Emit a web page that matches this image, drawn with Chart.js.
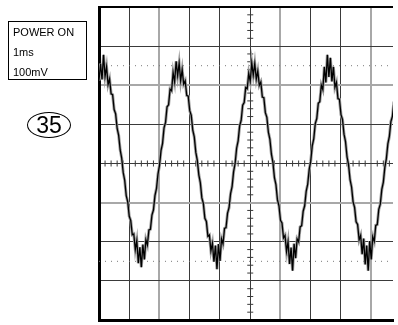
<!DOCTYPE html>
<html>
<head>
<meta charset="utf-8">
<script src="https://cdn.jsdelivr.net/npm/chart.js@4.4.1/dist/chart.umd.min.js"></script>
<style>
  html, body { margin: 0; padding: 0; background: #fff; overflow: hidden; }
  #wrap { position: relative; width: 398px; height: 325px; }
  #scope { position: absolute; left: 0; top: 0; }
  #panel {
    position: absolute; left: 8px; top: 21px; width: 79px; height: 59px;
    border: 1px solid #000; font: 11px "Liberation Sans", Arial, sans-serif;
    line-height: 20px; padding-left: 4px; box-sizing: border-box; color: #000;
  }
  #badge {
    position: absolute; left: 27px; top: 112px; width: 44px; height: 26px;
    border: 1.5px solid #000; border-radius: 50%; box-sizing: border-box;
    font: 23px "Liberation Sans", Arial, sans-serif; color: #000;
    display: flex; align-items: center; justify-content: center; line-height: 1;
  }
</style>
</head>
<body>
<div id="wrap">
  <canvas id="scope" width="398" height="325"></canvas>
  <div id="panel">POWER ON<br>1ms<br>100mV</div>
  <div id="badge">35</div>
</div>
<script>
// screen divisions (1 ms/div, 100 mV/div)
const xDivisions = [0, 1, 2, 3, 4, 5, 6, 7, 8, 9];
const yDivisions = [-4, -3, -2, -1, 0, 1, 2, 3, 4];
const greyXLines = [2, 6, 9];
const greyYLines = [2, -1];
const minorSteps = [0.2, 0.4, 0.6, 0.8];
const markerLevels = [2.5, -2.5];

// sampled trace, time in divisions, level in divisions
const sampleTimes = [
    0.00, 0.05, 0.10, 0.15, 0.20, 0.25, 0.30, 0.35, 0.40, 0.45,
    0.50, 0.55, 0.60, 0.65, 0.70, 0.75, 0.80, 0.85, 0.90, 0.95,
    1.00, 1.05, 1.10, 1.15, 1.20, 1.25, 1.30, 1.35, 1.40, 1.45,
    1.50, 1.55, 1.60, 1.65, 1.70, 1.75, 1.80, 1.85, 1.90, 1.95,
    2.00, 2.05, 2.10, 2.15, 2.20, 2.25, 2.30, 2.35, 2.40, 2.45,
    2.50, 2.55, 2.60, 2.65, 2.70, 2.75, 2.80, 2.85, 2.90, 2.95,
    3.00, 3.05, 3.10, 3.15, 3.20, 3.25, 3.30, 3.35, 3.40, 3.45,
    3.50, 3.55, 3.60, 3.65, 3.70, 3.75, 3.80, 3.85, 3.90, 3.95,
    4.00, 4.05, 4.10, 4.15, 4.20, 4.25, 4.30, 4.35, 4.40, 4.45,
    4.50, 4.55, 4.60, 4.65, 4.70, 4.75, 4.80, 4.85, 4.90, 4.95,
    5.00, 5.05, 5.10, 5.15, 5.20, 5.25, 5.30, 5.35, 5.40, 5.45,
    5.50, 5.55, 5.60, 5.65, 5.70, 5.75, 5.80, 5.85, 5.90, 5.95,
    6.00, 6.05, 6.10, 6.15, 6.20, 6.25, 6.30, 6.35, 6.40, 6.45,
    6.50, 6.55, 6.60, 6.65, 6.70, 6.75, 6.80, 6.85, 6.90, 6.95,
    7.00, 7.05, 7.10, 7.15, 7.20, 7.25, 7.30, 7.35, 7.40, 7.45,
    7.50, 7.55, 7.60, 7.65, 7.70, 7.75, 7.80, 7.85, 7.90, 7.95,
    8.00, 8.05, 8.10, 8.15, 8.20, 8.25, 8.30, 8.35, 8.40, 8.45,
    8.50, 8.55, 8.60, 8.65, 8.70, 8.75, 8.80, 8.85, 8.90, 8.95,
    9.00, 9.05, 9.10, 9.15, 9.20, 9.25, 9.30, 9.35, 9.40, 9.45,
    9.50, 9.55, 9.60, 9.65, 9.70, 9.75
];
const traceLevels = [
    2.12, 2.55, 2.15, 2.78, 2.23, 2.47, 2.02, 2.16, 1.78, 1.76,
    1.38, 1.27, 0.90, 0.72, 0.35, 0.14, -0.23, -0.43, -0.82, -0.98,
    -1.35, -1.46, -1.82, -1.80, -2.20, -1.97, -2.55, -2.14, -2.65, -2.07,
    -2.45, -1.95, -2.08, -1.70, -1.68, -1.32, -1.19, -0.82, -0.64, -0.27,
    -0.05, 0.33, 0.51, 0.91, 1.05, 1.45, 1.50, 1.90, 1.86, 2.32,
    2.09, 2.61, 2.25, 2.56, 2.12, 2.40, 2.03, 2.11, 1.74, 1.72,
    1.35, 1.23, 0.85, 0.68, 0.29, 0.08, -0.29, -0.49, -0.88, -1.02,
    -1.40, -1.48, -1.86, -1.83, -2.23, -2.04, -2.51, -2.10, -2.70, -2.06,
    -2.49, -1.93, -2.05, -1.66, -1.64, -1.27, -1.13, -0.77, -0.59, -0.21,
    0.00, 0.39, 0.58, 0.96, 1.10, 1.49, 1.56, 1.94, 1.91, 2.30,
    2.10, 2.57, 2.26, 2.55, 2.16, 2.36, 2.00, 2.08, 1.70, 1.68,
    1.30, 1.18, 0.80, 0.62, 0.24, 0.03, -0.36, -0.54, -0.93, -1.08,
    -1.45, -1.52, -1.90, -1.84, -2.25, -2.00, -2.57, -2.15, -2.74, -2.05,
    -2.42, -1.93, -2.00, -1.62, -1.59, -1.22, -1.08, -0.71, -0.53, -0.15,
    0.06, 0.45, 0.63, 1.02, 1.15, 1.54, 1.58, 2.00, 1.89, 2.47,
    2.07, 2.78, 2.21, 2.70, 2.10, 2.47, 1.95, 2.07, 1.66, 1.64,
    1.25, 1.13, 0.75, 0.56, 0.17, -0.03, -0.41, -0.60, -0.98, -1.12,
    -1.49, -1.56, -1.95, -1.84, -2.32, -1.92, -2.58, -2.10, -2.74, -1.98,
    -2.45, -1.87, -1.99, -1.58, -1.56, -1.17, -1.04, -0.66, -0.48, -0.10,
    0.12, 0.50, 0.69, 1.07, 1.20, 1.58
];

const xMax = 9.72;   // screen is cut at the right edge
const centreX = 5;

var tracePoints = sampleTimes.map((t, i) => ({ x: t, y: traceLevels[i] }));

// minor tick marks on the two centre lines
var xMinor = [];
xDivisions.forEach(d => minorSteps.forEach(s => { if (d + s < xMax) xMinor.push({ x: d + s, y: 0 }); }));
var yMinor = [];
yDivisions.slice(0, -1).forEach(d => minorSteps.forEach(s => yMinor.push({ x: centreX, y: d + s })));

var markerSets = markerLevels.map(v => ({
    data: [{ x: 0, y: v }, { x: xMax, y: v }],
    borderColor: '#7a7a7a',
    borderWidth: 1,
    borderDash: [1, 5],
    pointRadius: 0,
    order: 3
}));

function gridColor(greys, edge) {
    return function (ctx) {
        var v = ctx.tick && ctx.tick.value;
        if (v === edge) return '#000';
        return greys.indexOf(v) >= 0 ? '#a8a8a8' : '#3a3a3a';
    };
}
function gridWidth(greys, edge) {
    return function (ctx) {
        var v = ctx.tick && ctx.tick.value;
        if (v === edge) return 2;
        return greys.indexOf(v) >= 0 ? 2 : 1;
    };
}

var scopeChart = new Chart(document.querySelector('#scope').getContext('2d'), {
    type: 'line',
    data: {
        datasets: [
            {
                data: tracePoints,
                borderColor: '#000',
                borderWidth: 1.3,
                pointRadius: 0,
                tension: 0,
                order: 0
            },
            {
                data: tracePoints,
                borderColor: '#a0a0a0',
                borderWidth: 3,
                pointRadius: 0,
                tension: 0,
                order: 1
            },
            {
                data: xMinor,
                showLine: false,
                pointStyle: 'line',
                pointRotation: 90,
                pointRadius: 3,
                pointBorderColor: '#3a3a3a',
                pointBorderWidth: 1,
                order: 2
            },
            {
                data: yMinor,
                showLine: false,
                pointStyle: 'line',
                pointRotation: 0,
                pointRadius: 3,
                pointBorderColor: '#3a3a3a',
                pointBorderWidth: 1,
                order: 2
            }
        ].concat(markerSets)
    },
    options: {
        responsive: false,
        animation: false,
        events: [],
        layout: { padding: { left: 99, top: 7, right: 0, bottom: 3 } },
        plugins: { legend: { display: false }, tooltip: { enabled: false } },
        scales: {
            x: {
                type: 'linear',
                min: 0,
                max: xMax,
                afterBuildTicks: s => { s.ticks = xDivisions.map(v => ({ value: v })); },
                ticks: { display: false },
                grid: { drawTicks: false, color: gridColor(greyXLines, 0), lineWidth: gridWidth(greyXLines, 0) },
                border: { display: true, color: '#000', width: 3 }
            },
            y: {
                type: 'linear',
                min: -4,
                max: 4,
                afterBuildTicks: s => { s.ticks = yDivisions.map(v => ({ value: v })); },
                ticks: { display: false },
                grid: { drawTicks: false, color: gridColor(greyYLines, 4), lineWidth: gridWidth(greyYLines, 4) },
                border: { display: true, color: '#000', width: 3 }
            }
        }
    }
});
</script>
</body>
</html>
